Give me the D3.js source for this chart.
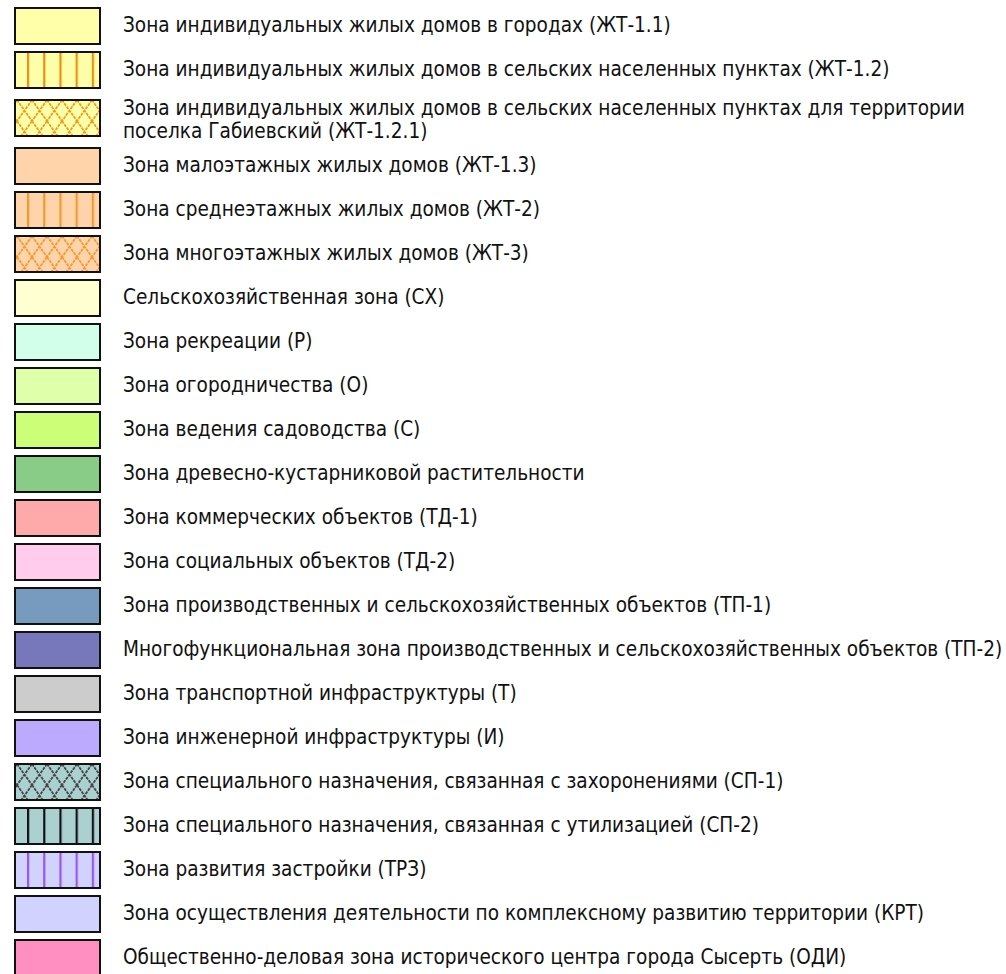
<!DOCTYPE html>
<html><head><meta charset="utf-8">
<script src="https://cdn.jsdelivr.net/npm/d3@7"></script>
<style>html,body{margin:0;padding:0;background:#fff;}</style>
</head><body>
<svg id="c" width="1006" height="974"></svg>
<script>
const labels = [
  ["Зона индивидуальных жилых домов в городах (ЖТ-1.1)"],
  ["Зона индивидуальных жилых домов в сельских населенных пунктах (ЖТ-1.2)"],
  ["Зона индивидуальных жилых домов в сельских населенных пунктах для территории", "поселка Габиевский (ЖТ-1.2.1)"],
  ["Зона малоэтажных жилых домов (ЖТ-1.3)"],
  ["Зона среднеэтажных жилых домов (ЖТ-2)"],
  ["Зона многоэтажных жилых домов (ЖТ-3)"],
  ["Сельскохозяйственная зона (СХ)"],
  ["Зона рекреации (Р)"],
  ["Зона огородничества (О)"],
  ["Зона ведения садоводства (С)"],
  ["Зона древесно-кустарниковой растительности"],
  ["Зона коммерческих объектов (ТД-1)"],
  ["Зона социальных объектов (ТД-2)"],
  ["Зона производственных и сельскохозяйственных объектов (ТП-1)"],
  ["Многофункциональная зона производственных и сельскохозяйственных объектов (ТП-2)"],
  ["Зона транспортной инфраструктуры (Т)"],
  ["Зона инженерной инфраструктуры (И)"],
  ["Зона специального назначения, связанная с захоронениями (СП-1)"],
  ["Зона специального назначения, связанная с утилизацией (СП-2)"],
  ["Зона развития застройки (ТРЗ)"],
  ["Зона осуществления деятельности по комплексному развитию территории (КРТ)"],
  ["Общественно-деловая зона исторического центра города Сысерть (ОДИ)"]
];
const fills = ["#FFFFAA","#FFFFAA","#FFFFAA","#FFD4AA","#FFD4AA","#FFD4AA","#FFFFD2","#D2FFEA","#E0FFAA","#CCFF77","#88CC88","#FFAAAA","#FFCCEE","#779ABF","#7777BB","#CCCCCC","#BBAAFF","#AAD0D0","#AAD0D0","#D2D2FF","#D2D2FF","#FF8FC0"];
const patterns = ["none","vlines","cross","none","vlines","cross","none","none","none","none","none","none","none","none","none","none","none","cross","vlines","vlines","none","none"];
const patternColors = [null,"#EE8E10","#EE9A20",null,"#F09A30","#F09A30",null,null,null,null,null,null,null,null,null,null,null,"#444444","#111111","#9955EE",null,null];

const svg = d3.select("#c");
const defs = svg.append("defs");
const rows = labels.map((l,i)=>({lines:l, fill:fills[i], pattern:patterns[i], pcolor:patternColors[i], i}));

// vertical positions
let y = 7;
rows.forEach(r=>{
  const extra = r.lines.length > 1 ? 4 : 0;
  y += extra;
  r.top = y;
  y += 44 + extra;
});

const sx = 14, sw = 87, sh = 38;

rows.forEach(r=>{
  if (r.pattern === "none") return;
  const id = "p"+r.i;
  r.pid = id;
  if (r.pattern === "vlines") {
    const p = defs.append("pattern").attr("id",id).attr("patternUnits","userSpaceOnUse")
      .attr("width",16.2).attr("height",16).attr("x", 27).attr("y", r.top);
    p.append("rect").attr("width",17).attr("height",16).attr("fill",r.fill);
    p.append("rect").attr("x",0).attr("y",0).attr("width",2.2).attr("height",16).attr("fill",r.pcolor);
  } else {
    const W = 15, H = 21;
    const p = defs.append("pattern").attr("id",id).attr("patternUnits","userSpaceOnUse")
      .attr("width",W).attr("height",H).attr("x", sx+3).attr("y", r.top+1);
    p.append("rect").attr("width",W).attr("height",H).attr("fill",r.fill);
    p.append("path").attr("d",`M0,0L${W},${H}M${W},0L0,${H}`)
      .attr("stroke",r.pcolor).attr("stroke-width",1.8).attr("fill","none").attr("stroke-dasharray","3,1");
  }
});

const g = svg.selectAll("g.row").data(rows).join("g").attr("class","row");
g.append("rect")
  .attr("x",sx+1).attr("y",d=>d.top+1).attr("width",sw-2).attr("height",sh-2)
  .attr("fill",d=>d.pid ? `url(#${d.pid})` : d.fill)
  .attr("stroke","#111").attr("stroke-width",2);

const fontFamily = "'DejaVu Sans Condensed','DejaVu Sans',sans-serif";
let fs = 16;
const txt = g.append("text")
  .attr("x",123)
  .attr("font-family",fontFamily)
  .attr("fill","#111");
txt.selectAll("tspan").data(d=>d.lines.map((s,k)=>({s,k,n:d.lines.length,top:d.top})))
  .join("tspan")
  .attr("x",123)
  .attr("y",d=> d.n===1 ? d.top+25 : d.top+16+d.k*23)
  .text(d=>d.s);
txt.attr("font-size",fs);
// fit font size so the first label spans the same width as in the reference
const w0 = txt.nodes()[0].getComputedTextLength();
fs = fs * 548 / w0;
txt.attr("font-size",fs);
</script>
</body></html>
